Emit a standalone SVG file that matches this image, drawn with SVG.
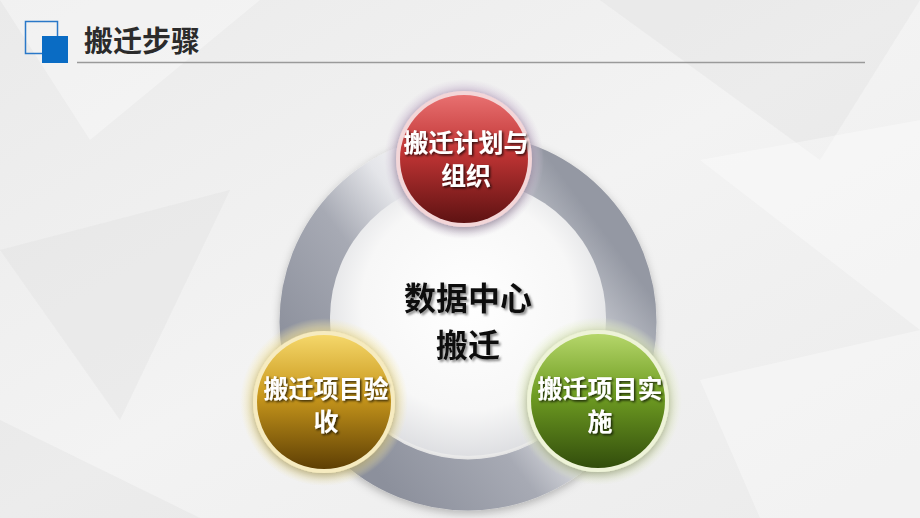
<svg xmlns="http://www.w3.org/2000/svg" width="920" height="518" viewBox="0 0 920 518">
<defs>
<style>
.title{font-family:"Noto Sans CJK SC","Noto Sans",sans-serif;font-weight:700;font-size:29px;fill:#2b2b2b}
.nt{font-family:"Noto Sans CJK SC","Noto Sans",sans-serif;font-weight:700;font-size:25px;fill:#ffffff;text-anchor:middle}
.ct{font-family:"Noto Sans CJK SC","Noto Sans",sans-serif;font-weight:700;font-size:32px;fill:#111111;text-anchor:middle}
.facet{fill:#ffffff;opacity:0.35}
.facet2{fill:#d8d8d8;opacity:0.25}
</style>
<linearGradient id="bg" x1="0" y1="0" x2="1" y2="1">
<stop offset="0" stop-color="#eaeaea"/><stop offset="0.5" stop-color="#f3f3f3"/><stop offset="1" stop-color="#ebebeb"/>
</linearGradient>
<linearGradient id="ring" x1="0.1" y1="0.8" x2="0.9" y2="0.2">
<stop offset="0" stop-color="#8c909c"/>
<stop offset="0.35" stop-color="#a7aab4"/>
<stop offset="0.55" stop-color="#e4e5e9"/>
<stop offset="0.7" stop-color="#f7f7f8"/>
<stop offset="0.85" stop-color="#b8bbc3"/>
<stop offset="1" stop-color="#9498a3"/>
</linearGradient>
<radialGradient id="inner" cx="0.5" cy="0.45" r="0.55">
<stop offset="0" stop-color="#ffffff"/><stop offset="0.7" stop-color="#f7f7f7"/><stop offset="1" stop-color="#dedfe2"/>
</radialGradient>
<linearGradient id="red" x1="0" y1="0" x2="0" y2="1">
<stop offset="0" stop-color="#e87070"/><stop offset="0.45" stop-color="#c03434"/><stop offset="1" stop-color="#5e1212"/>
</linearGradient>
<linearGradient id="yel" x1="0" y1="0" x2="0" y2="1">
<stop offset="0" stop-color="#f5d76a"/><stop offset="0.45" stop-color="#c9981c"/><stop offset="1" stop-color="#5e3f04"/>
</linearGradient>
<linearGradient id="grn" x1="0" y1="0" x2="0" y2="1">
<stop offset="0" stop-color="#b5d66a"/><stop offset="0.45" stop-color="#6f9d22"/><stop offset="1" stop-color="#324d0c"/>
</linearGradient>
<radialGradient id="haloR"><stop offset="0.8" stop-color="#c9b4d0" stop-opacity="0.9"/><stop offset="1" stop-color="#d6cadc" stop-opacity="0"/></radialGradient>
<radialGradient id="haloY"><stop offset="0.8" stop-color="#f4e39a" stop-opacity="0.9"/><stop offset="1" stop-color="#f6eab0" stop-opacity="0"/></radialGradient>
<radialGradient id="haloG"><stop offset="0.8" stop-color="#dde8b8" stop-opacity="0.9"/><stop offset="1" stop-color="#e6efc8" stop-opacity="0"/></radialGradient>
<filter id="ts" x="-20%" y="-30%" width="140%" height="160%"><feDropShadow dx="1.5" dy="1.5" stdDeviation="0.8" flood-color="#000" flood-opacity="0.75"/></filter>
<filter id="ts2" x="-20%" y="-30%" width="140%" height="160%"><feDropShadow dx="2" dy="2" stdDeviation="0.8" flood-color="#666" flood-opacity="0.7"/></filter>
<filter id="sh" x="-20%" y="-20%" width="140%" height="140%"><feDropShadow dx="0" dy="3" stdDeviation="4" flood-color="#000" flood-opacity="0.25"/></filter>
</defs>
<rect width="920" height="518" fill="url(#bg)"/>
<polygon class="facet" points="0,0 260,0 90,140"/>
<polygon class="facet2" points="600,0 920,0 820,160"/>
<polygon class="facet" points="700,160 920,120 920,330"/>
<polygon class="facet2" points="0,250 230,190 120,420"/>
<polygon class="facet" points="700,380 920,330 920,518 760,518"/>
<polygon class="facet2" points="0,420 200,518 0,518"/>
<g id="header">
<rect x="25.5" y="21.5" width="32" height="32" fill="none" stroke="#2a78c8" stroke-width="1.5"/>
<rect x="42" y="36" width="26" height="27" fill="#0a6cc4"/>
<text class="title" x="84" y="52">搬迁步骤</text>
<line x1="77" y1="62.5" x2="865" y2="62.5" stroke="#9a9a9a" stroke-width="1.5"/>
</g>
<g id="connectors">
<circle cx="468" cy="322" r="163" fill="none" stroke="url(#ring)" stroke-width="51" filter="url(#sh)"/>
</g>
<g id="center">
<circle cx="468" cy="318" r="138" fill="url(#inner)"/>
<text class="ct" filter="url(#ts2)"><tspan x="468" y="310">数据中心</tspan><tspan x="468" y="357">搬迁</tspan></text>
</g>
<g id="node-plan">
<circle cx="464" cy="159" r="80" fill="url(#haloR)"/>
<circle cx="464" cy="159" r="68" fill="#f3d6d8" filter="url(#sh)"/>
<circle cx="464" cy="159" r="64" fill="url(#red)"/>
<text class="nt" filter="url(#ts)"><tspan x="466" y="152">搬迁计划与</tspan><tspan x="466" y="185">组织</tspan></text>
</g>
<g id="node-accept">
<circle cx="324" cy="402" r="84" fill="url(#haloY)"/>
<circle cx="324" cy="402" r="71" fill="#f6ebc0" filter="url(#sh)"/>
<circle cx="324" cy="402" r="67" fill="url(#yel)"/>
<text class="nt" filter="url(#ts)"><tspan x="326" y="398">搬迁项目验</tspan><tspan x="326" y="431">收</tspan></text>
</g>
<g id="node-impl">
<circle cx="598" cy="401" r="84" fill="url(#haloG)"/>
<circle cx="598" cy="401" r="71" fill="#eef3d8" filter="url(#sh)"/>
<circle cx="598" cy="401" r="67" fill="url(#grn)"/>
<text class="nt" filter="url(#ts)"><tspan x="600" y="398">搬迁项目实</tspan><tspan x="600" y="431">施</tspan></text>
</g>
</svg>
